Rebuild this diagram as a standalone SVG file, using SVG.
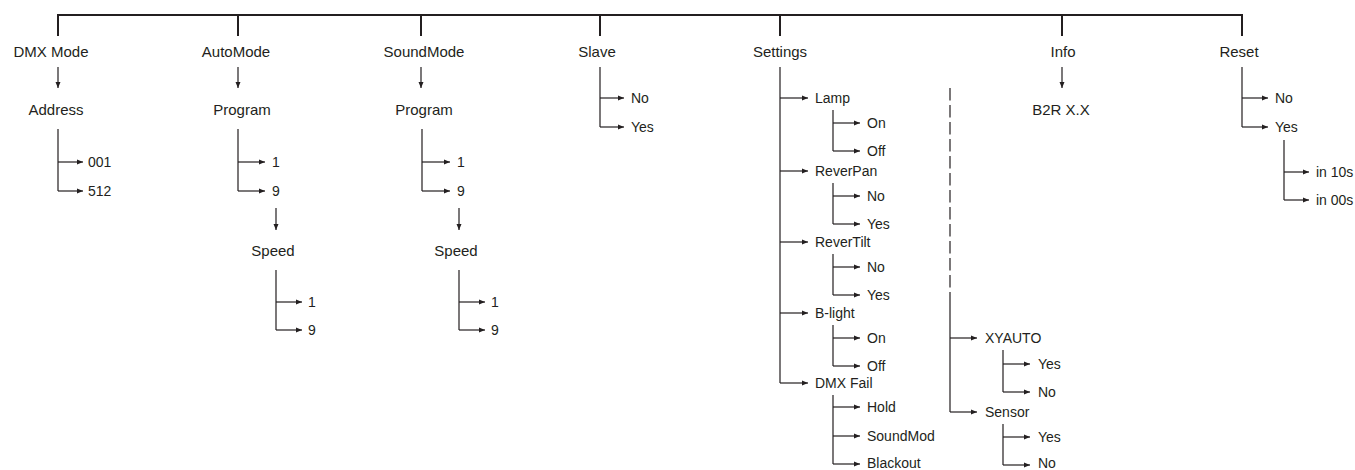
<svg xmlns="http://www.w3.org/2000/svg" width="1355" height="470" viewBox="0 0 1355 470">
<style>
.t{font-family:"Liberation Sans",Arial,sans-serif;font-size:15px;fill:#231f20;text-anchor:middle}
.s{font-family:"Liberation Sans",Arial,sans-serif;font-size:14px;fill:#231f20}
.thick{stroke:#231f20;stroke-width:2;fill:none}
.ln{stroke:#231f20;stroke-width:1.2;fill:none}
.ar line{stroke:#231f20;stroke-width:1.2;marker-end:url(#ah)}
.dash{stroke:#231f20;stroke-width:1.2;fill:none;stroke-dasharray:12.5 4.5}
</style>
<defs>
<marker id="ah" markerUnits="userSpaceOnUse" markerWidth="7" markerHeight="6" refX="6" refY="3" orient="auto">
<path d="M0,0.5 L6,3 L0,5.5 z" fill="#231f20"/>
</marker>
</defs>
<rect width="1355" height="470" fill="#ffffff"/>
<g id="connectors">
<path class="thick" d="M58,15 H1242 M58,14 V36 M238,15 V36 M421,15 V36 M600,15 V36 M780,15 V36 M1062,15 V36 M1242,14 V36"/>
<path class="ln" d="M58,129 V191 M238,129 V191 M276,270 V330 M422,129 V191 M459,270 V330 M600,67 V127 M780,67 V383 M833,110 V151 M833,183 V224 M833,254 V295 M833,325 V366 M833,395 V464 M950,303 V412 M1003,350 V392 M1003,424 V465 M1242,67 V127 M1284,140 V200"/>
<path class="dash" d="M950,88 V303"/>
<g class="ar">
<line x1="58" y1="67" x2="58" y2="88"/>
<line x1="238" y1="67" x2="238" y2="88"/>
<line x1="421" y1="67" x2="421" y2="88"/>
<line x1="1062" y1="67" x2="1062" y2="88"/>
<line x1="276" y1="208" x2="276" y2="230"/>
<line x1="459" y1="208" x2="459" y2="230"/>
<line x1="58" y1="162" x2="83" y2="162"/>
<line x1="58" y1="191" x2="83" y2="191"/>
<line x1="238" y1="162" x2="265" y2="162"/>
<line x1="238" y1="191" x2="265" y2="191"/>
<line x1="276" y1="302" x2="302" y2="302"/>
<line x1="276" y1="330" x2="302" y2="330"/>
<line x1="422" y1="162" x2="450" y2="162"/>
<line x1="422" y1="191" x2="450" y2="191"/>
<line x1="459" y1="302" x2="485" y2="302"/>
<line x1="459" y1="330" x2="485" y2="330"/>
<line x1="600" y1="98" x2="624" y2="98"/>
<line x1="600" y1="127" x2="624" y2="127"/>
<line x1="780" y1="98" x2="808" y2="98"/>
<line x1="780" y1="171" x2="808" y2="171"/>
<line x1="780" y1="242" x2="808" y2="242"/>
<line x1="780" y1="313" x2="808" y2="313"/>
<line x1="780" y1="383" x2="808" y2="383"/>
<line x1="833" y1="123" x2="860" y2="123"/>
<line x1="833" y1="151" x2="860" y2="151"/>
<line x1="833" y1="196" x2="860" y2="196"/>
<line x1="833" y1="224" x2="860" y2="224"/>
<line x1="833" y1="267" x2="860" y2="267"/>
<line x1="833" y1="295" x2="860" y2="295"/>
<line x1="833" y1="338" x2="860" y2="338"/>
<line x1="833" y1="366" x2="860" y2="366"/>
<line x1="833" y1="407" x2="860" y2="407"/>
<line x1="833" y1="436" x2="860" y2="436"/>
<line x1="833" y1="464" x2="860" y2="464"/>
<line x1="950" y1="338" x2="977" y2="338"/>
<line x1="950" y1="412" x2="977" y2="412"/>
<line x1="1003" y1="364" x2="1030" y2="364"/>
<line x1="1003" y1="392" x2="1030" y2="392"/>
<line x1="1003" y1="437" x2="1030" y2="437"/>
<line x1="1003" y1="465" x2="1030" y2="465"/>
<line x1="1242" y1="98" x2="1268" y2="98"/>
<line x1="1242" y1="127" x2="1268" y2="127"/>
<line x1="1284" y1="172" x2="1309" y2="172"/>
<line x1="1284" y1="200" x2="1309" y2="200"/>
</g>
</g>
<g id="dmx"><text class="t" x="51" y="57">DMX Mode</text><text class="t" x="56" y="115">Address</text><text class="s" x="88" y="167">001</text><text class="s" x="88" y="196">512</text></g>
<g id="auto"><text class="t" x="236" y="57">AutoMode</text><text class="t" x="242" y="115">Program</text><text class="s" x="272" y="167">1</text><text class="s" x="272" y="196">9</text><text class="t" x="273" y="256">Speed</text><text class="s" x="308" y="307">1</text><text class="s" x="308" y="335">9</text></g>
<g id="sound"><text class="t" x="424" y="57">SoundMode</text><text class="t" x="424" y="115">Program</text><text class="s" x="457" y="167">1</text><text class="s" x="457" y="196">9</text><text class="t" x="456" y="256">Speed</text><text class="s" x="491" y="307">1</text><text class="s" x="491" y="335">9</text></g>
<g id="slave"><text class="t" x="597" y="57">Slave</text><text class="s" x="631" y="103">No</text><text class="s" x="631" y="132">Yes</text></g>
<g id="settings"><text class="t" x="780" y="57">Settings</text>
<text class="s" x="815" y="103">Lamp</text><text class="s" x="867" y="128">On</text><text class="s" x="867" y="156">Off</text>
<text class="s" x="815" y="176">ReverPan</text><text class="s" x="867" y="201">No</text><text class="s" x="867" y="229">Yes</text>
<text class="s" x="815" y="247">ReverTilt</text><text class="s" x="867" y="272">No</text><text class="s" x="867" y="300">Yes</text>
<text class="s" x="815" y="318">B-light</text><text class="s" x="867" y="343">On</text><text class="s" x="867" y="371">Off</text>
<text class="s" x="815" y="388">DMX Fail</text><text class="s" x="867" y="412">Hold</text><text class="s" x="867" y="441">SoundMod</text><text class="s" x="867" y="468">Blackout</text>
</g>
<g id="xyauto"><text class="s" x="985" y="343">XYAUTO</text><text class="s" x="1038" y="369">Yes</text><text class="s" x="1038" y="397">No</text>
<text class="s" x="985" y="417">Sensor</text><text class="s" x="1038" y="442">Yes</text><text class="s" x="1038" y="468">No</text></g>
<g id="info"><text class="t" x="1063" y="57">Info</text><text class="t" x="1061" y="115">B2R X.X</text></g>
<g id="reset"><text class="t" x="1239" y="57">Reset</text><text class="s" x="1275" y="103">No</text><text class="s" x="1275" y="132">Yes</text><text class="s" x="1316" y="177">in 10s</text><text class="s" x="1316" y="205">in 00s</text></g>
</svg>
